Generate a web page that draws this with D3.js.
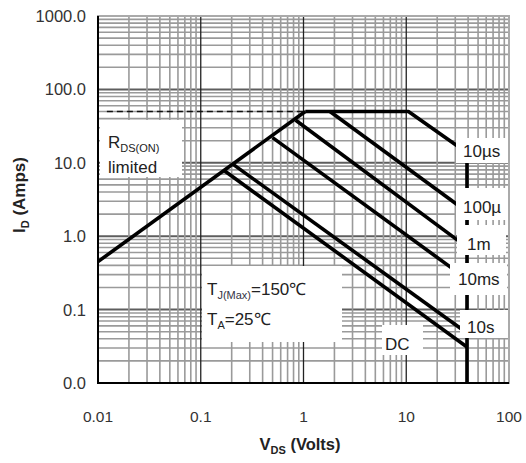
<!DOCTYPE html>
<html>
<head>
<meta charset="utf-8">
<script src="https://cdn.jsdelivr.net/npm/d3@7"></script>
<style>
  body { margin: 0; background: #fff; }
  svg { display: block; font-family: "Liberation Sans", Arial, sans-serif; }
</style>
</head>
<body>
<svg id="chart" width="526" height="463"></svg>
<script>
// Axis ticks and their printed labels
const vdsTicks = [0.01, 0.1, 1, 10, 100];
const vdsTickLabels = ["0.01", "0.1", "1", "10", "100"];
const idTicks = [0.01, 0.1, 1, 10, 100, 1000];
const idTickLabels = ["0.0", "0.1", "1.0", "10.0", "100.0", "1000.0"];

// Safe operating area boundaries, [V_DS (V), I_D (A)]
const rdsOnLimit = [[0.01, 0.45], [1.04, 50]];
const rdsDashed = [[0.0122, 50], [1.04, 50]];
const pulse10us = [[1.04, 50], [10.5, 50], [39, 13.7]];
const pulse100us = [[1.81, 50], [39, 2.15]];
const pulse1ms = [[0.84, 38], [39, 0.71]];
const pulse10ms = [[0.5, 22], [39, 0.26]];
const pulse10s = [[0.205, 9.6], [39, 0.048]];
const pulseDC = [[0.17, 7.8], [39, 0.031]];
const bvdssLimit = [[39, 0.01], [39, 13.7]];

const curveNames = ["10µs", "100µ", "1m", "10ms", "10s", "DC"];

const svg = d3.select("#chart");
const plotLeft = 98, plotRight = 509, plotTop = 16, plotBottom = 383;

const x = d3.scaleLog().domain([0.01, 100]).range([plotLeft, plotRight]);
const y = d3.scaleLog().domain([0.01, 1000]).range([plotBottom, plotTop]);

// Log grid: every 1..9 × 10^n inside the domain
function logGrid(lo, hi) {
  const out = [];
  for (let e = Math.round(Math.log10(lo)); e < Math.round(Math.log10(hi)); e++) {
    for (let k = 1; k <= 9; k++) out.push({ v: k * Math.pow(10, e), major: k === 1 });
  }
  return out;
}

const grid = svg.append("g");
grid.selectAll("line.h").data(logGrid(0.01, 1000)).join("line")
  .attr("x1", plotLeft).attr("x2", plotRight)
  .attr("y1", d => y(d.v)).attr("y2", d => y(d.v))
  .attr("stroke", d => d.major ? "#5e5e5e" : "#9a9a9a")
  .attr("stroke-width", d => d.major ? 2 : 1.6);
grid.selectAll("line.v").data(logGrid(0.01, 100)).join("line")
  .attr("y1", plotTop).attr("y2", plotBottom)
  .attr("x1", d => x(d.v)).attr("x2", d => x(d.v))
  .attr("stroke", d => d.major ? "#222" : "#9a9a9a")
  .attr("stroke-width", d => d.major ? 1.3 : 1.6);

// Frame
svg.append("rect").attr("x", plotLeft).attr("y", plotTop)
  .attr("width", plotRight - plotLeft).attr("height", plotBottom - plotTop)
  .attr("fill", "none").attr("stroke", "#aaa").attr("stroke-width", 2);
svg.append("line").attr("x1", plotLeft).attr("x2", plotLeft).attr("y1", plotTop).attr("y2", plotBottom + 1)
  .attr("stroke", "#000").attr("stroke-width", 2);
svg.append("line").attr("x1", plotLeft - 1).attr("x2", plotRight).attr("y1", plotBottom).attr("y2", plotBottom)
  .attr("stroke", "#000").attr("stroke-width", 2);

// Curves
const line = d3.line().x(d => x(d[0])).y(d => y(d[1]));
svg.append("path").datum(rdsDashed).attr("d", line)
  .attr("fill", "none").attr("stroke", "#111").attr("stroke-width", 1.6)
  .attr("stroke-dasharray", "6,4");
[rdsOnLimit, pulse10us, pulse100us, pulse1ms, pulse10ms, pulse10s, pulseDC, bvdssLimit]
  .forEach(c => {
    svg.append("path").datum(c).attr("d", line)
      .attr("fill", "none").attr("stroke", "#000").attr("stroke-width", 3.6)
      .attr("stroke-linecap", "butt").attr("stroke-linejoin", "round");
  });

// White label boxes over the grid
function box(x0, y0, x1, y1) {
  svg.append("rect").attr("x", x0).attr("y", y0)
    .attr("width", x1 - x0).attr("height", y1 - y0).attr("fill", "#fff");
}
const labelFont = 17;
const boxes = [
  [456, 138, 508, 163, 463, 157],
  [456, 188, 508, 220, 463, 213],
  [457, 225, 506, 255, 467, 250],
  [450, 263, 507, 295, 458, 285],
  [460, 310, 508, 338, 467, 333],
  [382, 325, 423, 355, 385, 350]
];
boxes.forEach((b, i) => {
  box(b[0], b[1], b[2], b[3]);
  svg.append("text").attr("x", b[4]).attr("y", b[5])
    .attr("font-size", labelFont).attr("fill", "#222").text(curveNames[i]);
});

// R_DS(ON) limited note
box(100, 120, 182, 177);
const rds = svg.append("text").attr("x", 108).attr("y", 148)
  .attr("font-size", labelFont).attr("fill", "#222");
rds.append("tspan").text("R");
rds.append("tspan").attr("font-size", 11).attr("dy", 4).text("DS(ON)");
svg.append("text").attr("x", 108).attr("y", 173)
  .attr("font-size", labelFont).attr("fill", "#222").text("limited");

// Temperature conditions note
box(202, 266, 342, 342);
const tj = svg.append("text").attr("x", 207).attr("y", 295)
  .attr("font-size", labelFont).attr("fill", "#222");
tj.append("tspan").text("T");
tj.append("tspan").attr("font-size", 11).attr("dy", 4).attr("fill", "#334").text("J(Max)");
tj.append("tspan").attr("dy", -4).text("=150℃");
const ta = svg.append("text").attr("x", 207).attr("y", 325)
  .attr("font-size", labelFont).attr("fill", "#222");
ta.append("tspan").text("T");
ta.append("tspan").attr("font-size", 11).attr("dy", 4).text("A");
ta.append("tspan").attr("dy", -4).text("=25℃");

// Tick labels
svg.append("g").selectAll("text").data(vdsTicks).join("text")
  .attr("x", d => x(d)).attr("y", 422)
  .attr("text-anchor", "middle").attr("font-size", 15.5).attr("fill", "#333")
  .text((d, i) => vdsTickLabels[i]);
svg.append("g").selectAll("text").data(idTicks).join("text")
  .attr("x", 86).attr("y", d => y(d)).attr("dy", "0.36em")
  .attr("text-anchor", "end").attr("font-size", 16.5).attr("fill", "#333")
  .text((d, i) => idTickLabels[i]);

// Axis titles
const xt = svg.append("text").attr("x", 300).attr("y", 450)
  .attr("text-anchor", "middle").attr("font-size", 16.5).attr("font-weight", "bold").attr("fill", "#222");
xt.append("tspan").text("V");
xt.append("tspan").attr("font-size", 11).attr("dy", 4).text("DS");
xt.append("tspan").attr("dy", -4).text(" (Volts)");

const yt = svg.append("text").attr("transform", "translate(25,195) rotate(-90)")
  .attr("text-anchor", "middle").attr("font-size", 17).attr("font-weight", "bold").attr("fill", "#222");
yt.append("tspan").text("I");
yt.append("tspan").attr("font-size", 11).attr("dy", 4).text("D");
yt.append("tspan").attr("dy", -4).text(" (Amps)");
</script>
</body>
</html>
